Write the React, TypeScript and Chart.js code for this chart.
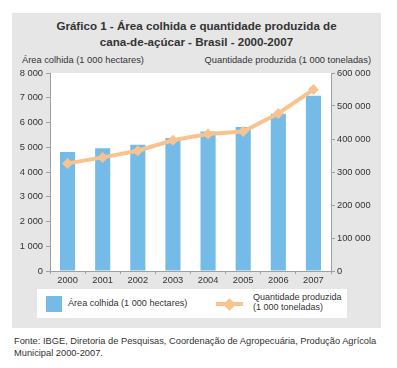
import React, { useEffect, useRef } from "react";
import { Chart, registerables } from "chart.js";

Chart.register(...registerables);

const years = ["2000", "2001", "2002", "2003", "2004", "2005", "2006", "2007"];
const areaColhida = [4805, 4958, 5100, 5378, 5632, 5815, 6356, 7080];
const quantidadeProduzida = [326121, 344293, 364389, 396012, 415206, 422957, 477411, 549707];

const BAR_COLOR = "#74bbe8";
const LINE_COLOR = "#f9c38f";
const FONT = "'Liberation Sans', Arial, sans-serif";

const fmt = (v: number) => String(Math.round(v)).replace(/\B(?=(\d{3})+(?!\d))/g, " ");

const whiteArea = {
  id: "whiteArea",
  beforeDraw(chart: any) {
    const { ctx, chartArea } = chart;
    ctx.save();
    ctx.fillStyle = "#ffffff";
    ctx.fillRect(chartArea.left, chartArea.top, chartArea.right - chartArea.left, chartArea.bottom - chartArea.top);
    ctx.restore();
  },
};

export default function App() {
  const ref = useRef<HTMLCanvasElement | null>(null);
  useEffect(() => {
    document.body.style.margin = "0";
    const chart = new Chart(ref.current as HTMLCanvasElement, {
      type: "bar",
      data: {
        labels: years,
        datasets: [
          {
            type: "line",
            label: "Quantidade produzida (1 000 toneladas)",
            data: quantidadeProduzida,
            yAxisID: "y1",
            borderColor: LINE_COLOR,
            backgroundColor: LINE_COLOR,
            borderWidth: 4,
            pointStyle: "rectRot",
            pointRadius: 5.5,
            pointBorderWidth: 0,
            tension: 0,
            order: 0,
          } as any,
          {
            type: "bar",
            label: "Área colhida (1 000 hectares)",
            data: areaColhida,
            yAxisID: "y",
            backgroundColor: BAR_COLOR,
            barPercentage: 0.43,
            categoryPercentage: 1,
            order: 1,
          },
        ],
      },
      options: {
        animation: false,
        responsive: false,
        maintainAspectRatio: false,
        layout: { padding: { top: 10, left: 0, right: 0, bottom: 0 } },
        plugins: { legend: { display: false }, tooltip: { enabled: false }, title: { display: false } },
        scales: {
          x: {
            offset: true,
            grid: { offset: true, drawOnChartArea: false, drawTicks: true, tickLength: 3, color: "#a0a0a0" },
            border: { display: true, color: "#a0a0a0", width: 1 },
            ticks: { color: "#333", font: { family: FONT, size: 9.3 }, padding: 1, maxRotation: 0 },
            afterFit: (s: any) => { s.height = 17; },
          },
          y: {
            position: "left",
            min: 0,
            max: 8000,
            grid: { drawOnChartArea: false, drawTicks: true, tickLength: 4, color: "#a0a0a0" },
            border: { display: true, color: "#a0a0a0", width: 1 },
            ticks: { stepSize: 1000, color: "#333", font: { family: FONT, size: 9.3 }, padding: 3, callback: (v: any) => fmt(Number(v)) },
            afterFit: (s: any) => { s.width = 38; },
          },
          y1: {
            position: "right",
            min: 0,
            max: 600000,
            grid: { drawOnChartArea: false, drawTicks: true, tickLength: 4, color: "#a0a0a0" },
            border: { display: true, color: "#a0a0a0", width: 1 },
            ticks: { stepSize: 100000, color: "#333", font: { family: FONT, size: 9.3 }, padding: 2, callback: (v: any) => fmt(Number(v)) },
            afterFit: (s: any) => { s.width = 50; },
          },
        },
      },
      plugins: [whiteArea],
    });
    return () => chart.destroy();
  }, []);

  const txt: React.CSSProperties = { position: "absolute", fontFamily: FONT, color: "#333", whiteSpace: "nowrap" };

  return (
    <div style={{ position: "relative", width: 397, height: 368, background: "#fff", overflow: "hidden" }}>
      <div style={{ position: "absolute", left: 12, top: 13, width: 369, height: 315, background: "#e6e6e6" }} />
      <div style={{ ...txt, left: 12, width: 369, top: 18, textAlign: "center", fontWeight: "bold", fontSize: 11.6, lineHeight: "16px", color: "#333" }}>
        Gráfico 1 - Área colhida e quantidade produzida de<br />cana-de-açúcar - Brasil - 2000-2007
      </div>
      <div style={{ ...txt, left: 22, top: 54, fontSize: 9.3, lineHeight: "12px" }}>Área colhida (1 000 hectares)</div>
      <div style={{ ...txt, right: 397 - 371, top: 54, fontSize: 9.3, lineHeight: "12px" }}>Quantidade produzida (1 000 toneladas)</div>
      <canvas ref={ref} width={369} height={225} style={{ position: "absolute", left: 12, top: 63, width: 369, height: 225 }} />
      <div style={{ position: "absolute", left: 37, top: 289, width: 310, height: 29, background: "#fff" }} />
      <div style={{ position: "absolute", left: 46, top: 296, width: 16, height: 16, background: BAR_COLOR }} />
      <div style={{ ...txt, left: 68, top: 298, fontSize: 9.1, lineHeight: "11px" }}>Área colhida (1 000 hectares)</div>
      <div style={{ position: "absolute", left: 216, top: 302, width: 27, height: 4, background: LINE_COLOR }} />
      <div style={{ position: "absolute", left: 225, top: 299.5, width: 9, height: 9, background: LINE_COLOR, transform: "rotate(45deg)", transformOrigin: "center" }} />
      <div style={{ ...txt, left: 253, top: 292, fontSize: 9, lineHeight: "10px" }}>Quantidade produzida<br />(1 000 toneladas)</div>
      <div style={{ ...txt, left: 14, top: 335, fontSize: 9.3, lineHeight: "12px", color: "#333" }}>
        Fonte: IBGE, Diretoria de Pesquisas, Coordenação de Agropecuária, Produção Agrícola<br />Municipal 2000-2007.
      </div>
    </div>
  );
}
